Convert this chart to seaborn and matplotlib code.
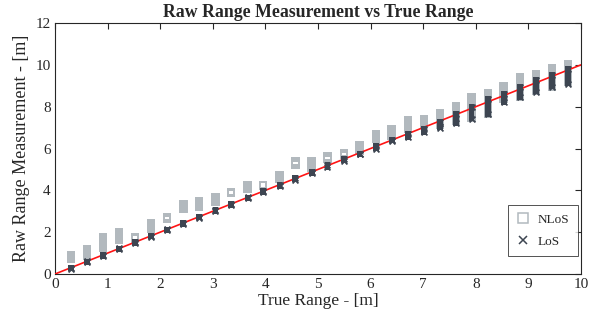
import matplotlib
matplotlib.use("Agg")
import matplotlib.pyplot as plt
from matplotlib.lines import Line2D
import seaborn as sns
import pandas as pd

# ---- data (cluster extent of each test point) ----
true_range = [0.30, 0.61, 0.91, 1.22, 1.52, 1.83, 2.13, 2.44, 2.74, 3.05, 3.35,
              3.66, 3.96, 4.27, 4.57, 4.88, 5.18, 5.49, 5.79, 6.10, 6.40, 6.71,
              7.01, 7.32, 7.62, 7.92, 8.23, 8.53, 8.84, 9.14, 9.45, 9.75]
nlos_lo = [0.71, 0.87, 1.23, 1.63, 1.70, 2.15, 2.63, 3.12, 3.23, 3.45, 3.87,
           4.06, 4.23, 4.54, 5.24, 5.08, 5.50, 5.69, 5.88, 6.45, 6.62, 6.93,
           7.11, 7.12, 7.33, 7.49, 7.65, 8.37, 8.48, 8.77, 8.96, 9.17]
nlos_hi = [0.91, 1.19, 1.75, 1.99, 1.75, 2.43, 2.74, 3.32, 3.46, 3.69, 3.92,
           4.25, 4.25, 4.73, 5.38, 5.41, 5.61, 5.79, 6.14, 6.69, 6.93, 7.37,
           7.41, 7.70, 8.02, 8.46, 8.66, 9.00, 9.42, 9.56, 9.82, 10.04]
los_lo = [0.26, 0.56, 0.87, 1.18, 1.48, 1.78, 2.09, 2.39, 2.69, 3.00, 3.30,
          3.61, 3.91, 4.21, 4.51, 4.83, 5.12, 5.42, 5.72, 5.99, 6.38, 6.56,
          6.79, 7.00, 7.22, 7.43, 7.65, 8.20, 8.45, 8.72, 8.96, 9.10]
los_hi = [0.30, 0.60, 0.91, 1.22, 1.52, 1.83, 2.13, 2.44, 2.74, 3.05, 3.36,
          3.66, 3.97, 4.27, 4.58, 4.90, 5.21, 5.52, 5.75, 6.13, 6.42, 6.70,
          6.95, 7.27, 7.65, 7.98, 8.36, 8.63, 8.95, 9.27, 9.51, 9.81]
ideal_x = [0, 10]
ideal_y = [0, 10]
x_ticks = [0, 1, 2, 3, 4, 5, 6, 7, 8, 9, 10]
y_ticks = [0, 2, 4, 6, 8, 10, 12]

gray = "#b2b9be"
dark = "#3d4551"
red = "#ff1414"

# marker geometry in data units (style, not data)
SQ_HALF = 0.20    # half height of an open-square marker
SQ_EDGE = 0.095   # stroke thickness of the square (y units)
SQ_W = 0.158      # square width (x units)
X_HALF = 0.15     # half height of an x marker
X_W = 0.12

sns.set_theme(style="white")
plt.rcParams["font.family"] = ["Liberation Serif", "DejaVu Serif"]

fig = plt.figure(figsize=(6.05, 3.26), dpi=100)
ax = fig.add_axes([0.0909, 0.1595, 0.8694, 0.7699])

df = pd.DataFrame({"x": true_range, "nlo": nlos_lo, "nhi": nlos_hi,
                   "llo": los_lo, "lhi": los_hi})
nspan = df["nhi"] - df["nlo"]

# NLoS: a dense stack of open squares = union of all bottom edges,
# all top edges and the two side edges
ax.bar(df["x"], nspan + SQ_EDGE, bottom=df["nlo"] - SQ_HALF, width=SQ_W,
       color=gray, linewidth=0, zorder=2)
ax.bar(df["x"], nspan + SQ_EDGE, bottom=df["nlo"] + SQ_HALF - SQ_EDGE,
       width=SQ_W, color=gray, linewidth=0, zorder=2)
ax.bar(df["x"], nspan + 2 * SQ_HALF - SQ_EDGE,
       bottom=df["nlo"] - SQ_HALF + SQ_EDGE / 2, width=SQ_W - 0.036,
       facecolor="none", edgecolor=gray, linewidth=1.4, zorder=2)

# ideal line
sns.lineplot(x=ideal_x, y=ideal_y, color=red, lw=1.2, ax=ax, zorder=3)

# LoS: a dense stack of x markers
ax.bar(df["x"], df["lhi"] - df["llo"] + 2 * X_HALF - 0.04,
       bottom=df["llo"] - X_HALF + 0.02, width=X_W - 0.01, color=dark,
       linewidth=0, zorder=4)
for col in ["llo", "lhi"]:
    sns.scatterplot(data=df, x="x", y=col, marker="x", s=18,
                    color=dark, linewidth=1.3, ax=ax, zorder=4, legend=False)

ax.set_xlim(0, 10)
ax.set_ylim(0, 12)
ax.set_xticks(x_ticks)
ax.set_yticks(y_ticks)
ax.set_xlabel("True Range - [m]", fontsize=12.5, labelpad=1)
ax.set_ylabel("Raw Range Measurement - [m]", fontsize=13, labelpad=4)
ax.set_title("Raw Range Measurement vs True Range", fontsize=12.8,
             fontweight="bold", pad=4)
ax.tick_params(axis="both", which="both", direction="in", length=4,
               width=0.8, labelsize=11, top=True, right=True,
               color="#262626", labelcolor="#262626", pad=3)
for sp in ax.spines.values():
    sp.set_color("#262626")
    sp.set_linewidth(0.8)

handles = [
    Line2D([], [], marker="s", linestyle="none", markersize=6.5,
           markerfacecolor="none", markeredgecolor=gray, markeredgewidth=1.1),
    Line2D([], [], marker="x", linestyle="none", markersize=6,
           color=dark, markeredgewidth=1.1),
]
leg = ax.legend(handles, ["NLoS", "LoS"], loc="lower right",
                bbox_to_anchor=(0.994, 0.07), borderaxespad=0,
                fontsize=9.5, frameon=True,
                fancybox=False, edgecolor="#262626", handlelength=1.0,
                handletextpad=0.6, borderpad=0.65, labelspacing=0.75)
leg.get_frame().set_linewidth(0.7)

fig.savefig("out.png", dpi=100)
